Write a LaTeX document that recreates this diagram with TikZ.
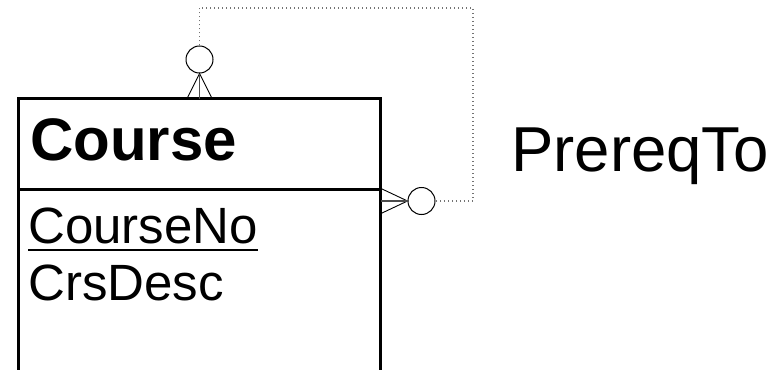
\documentclass[tikz,border=0pt]{standalone}
\usepackage{fontspec}
\setmainfont{Liberation Sans}
\begin{document}
\begin{tikzpicture}[x=1pt,y=-1pt,
  entbox/.style={line width=3pt,line cap=rect},
  divider/.style={line width=2.5pt},
  ring/.style={circle,draw,line width=1pt,minimum size=27pt,inner sep=0pt},
  foot/.style={line width=0.9pt},
  footmid/.style={line width=1.3pt,draw=black!70},
  relline/.style={line width=1.1pt,draw=black!55,dash pattern=on 1pt off 3pt},
  txt/.style={inner sep=0pt,anchor=base west}]
\useasboundingbox (0,0) rectangle (775,369);
% entity box
\coordinate (tl) at (18,98.5);
\coordinate (tr) at (380.5,98.5);
\coordinate (bl) at (18,380);
\coordinate (br) at (380.5,380);
\draw[entbox] (bl) -- (tl) -- (tr) -- (br);
\coordinate (dl) at (18,189.5);
\coordinate (dr) at (380.5,189.5);
\draw[divider] (dl) -- (dr);
% texts
\node[txt,font=\fontsize{60}{62}\selectfont\bfseries] (title) at (30,160) {Course};
\node[txt,font=\fontsize{51}{54}\selectfont] (cno) at (28,243) {CourseNo};
\draw[line width=2.5pt] ([yshift=-7pt]cno.base west) -- ([yshift=-7pt]cno.base east);
\node[txt,font=\fontsize{51}{54}\selectfont] (cds) at (28,300) {CrsDesc};
\node[txt,font=\fontsize{63.5}{66}\selectfont] (rel) at (511,171) {PrereqTo};
% top crow's foot
\node[ring] (c1) at (199.5,59.5) {};
\coordinate (f1a) at (187,98.5);
\coordinate (f1b) at (199.5,98.5);
\coordinate (f1c) at (212,98.5);
\draw[foot] (f1a) -- (c1.south) -- (f1c);
\draw[footmid] (c1.south) -- (f1b);
% right crow's foot
\node[ring] (c2) at (421.5,201) {};
\coordinate (f2a) at (381,188.5);
\coordinate (f2b) at (381,201);
\coordinate (f2c) at (381,213.5);
\draw[foot] (f2a) -- (c2.west) -- (f2c);
\draw[footmid] (c2.west) -- (f2b);
% relationship line
\coordinate (k1) at (199.5,8);
\coordinate (k2) at (473,8);
\coordinate (k3) at (473,201);
\draw[relline] (c1.north) -- (k1) -- (k2) -- (k3) -- (c2.east);
\end{tikzpicture}
\end{document}
